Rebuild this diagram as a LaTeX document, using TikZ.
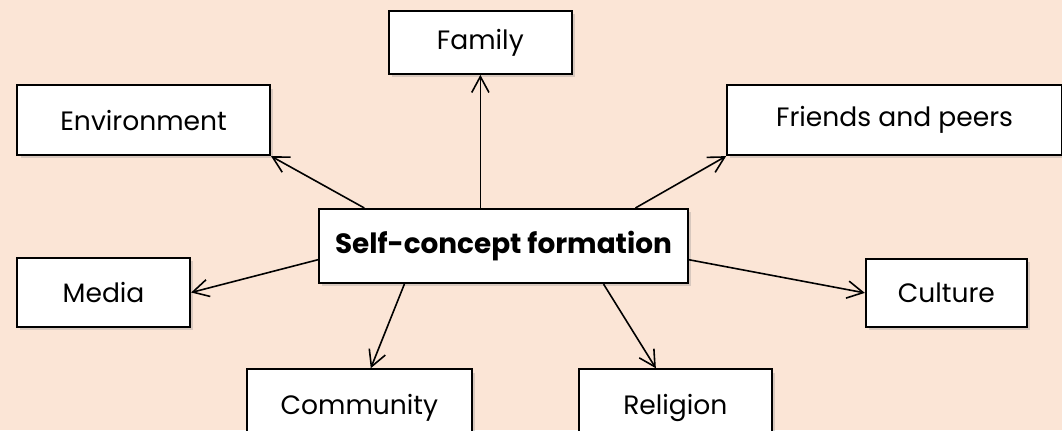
\documentclass[tikz,border=0pt]{standalone}
\usepackage{fontspec}
\setmainfont{Poppins}
\usetikzlibrary{arrows.meta, positioning, calc, shadows}
\definecolor{peach}{HTML}{FBE5D6}
\tikzset{
  factor/.style={
    rectangle, draw=black, line width=1.5pt, fill=white,
    minimum width=#1, minimum height=1.85cm, inner sep=0pt,
    font=\fontsize{20}{24}\selectfont,
    drop shadow={shadow xshift=2.5pt, shadow yshift=-2.5pt, opacity=0.28}
  },
  link/.style={
    -{Straight Barb[length=12pt, width=13pt, line width=1.2pt]}, line width=1.2pt
  }
}

\begin{document}
\begin{tikzpicture}
  % Canvas
  \useasboundingbox (0,0) rectangle (28.10,-11.38);
  \fill[peach] (0,0) rectangle (28.10,-11.38);

  % Central node
  \node[factor={9.76cm}, minimum height=1.96cm, font=\fontsize{21}{25}\selectfont\bfseries]
    (core) at (13.32,-6.51) {Self-concept formation};

  % Influences
  \node[factor={4.84cm}, minimum height=1.67cm] (family) at (12.71,-1.12) {Family};
  \node[factor={6.69cm}] (environment) at (3.80,-3.18) {Environment};
  \node[factor={8.86cm}] (friends) at (23.67,-3.18) {Friends and peers};
  \node[factor={4.58cm}, minimum height=1.83cm] (media) at (2.74,-7.74) {Media};
  \node[factor={4.26cm}, minimum height=1.80cm] (culture) at (25.04,-7.75) {Culture};
  \node[factor={5.95cm}, minimum height=2.06cm] (community) at (9.51,-10.80) {Community};
  \node[factor={5.11cm}, minimum height=2.06cm] (religion) at (17.87,-10.80) {Religion};

  % Arrows
  \draw[link] (core.north -| family.south) -- (family.south);
  \draw[link] ($(core.north west)!0.125!(core.north east)$) -- (environment.south east);
  \draw[link] ($(core.north west)!0.856!(core.north east)$) -- (friends.south west);
  \draw[link] ($(core.north west)!0.68!(core.south west)$) -- (media.east);
  \draw[link] ($(core.north east)!0.68!(core.south east)$) -- (culture.west);
  \draw[link] ($(core.south west)!0.233!(core.south east)$)
    -- ($(community.north west)!0.55!(community.north east)$);
  \draw[link] ($(core.south west)!0.77!(core.south east)$)
    -- ($(religion.north west)!0.4!(religion.north east)$);
\end{tikzpicture}
\end{document}
